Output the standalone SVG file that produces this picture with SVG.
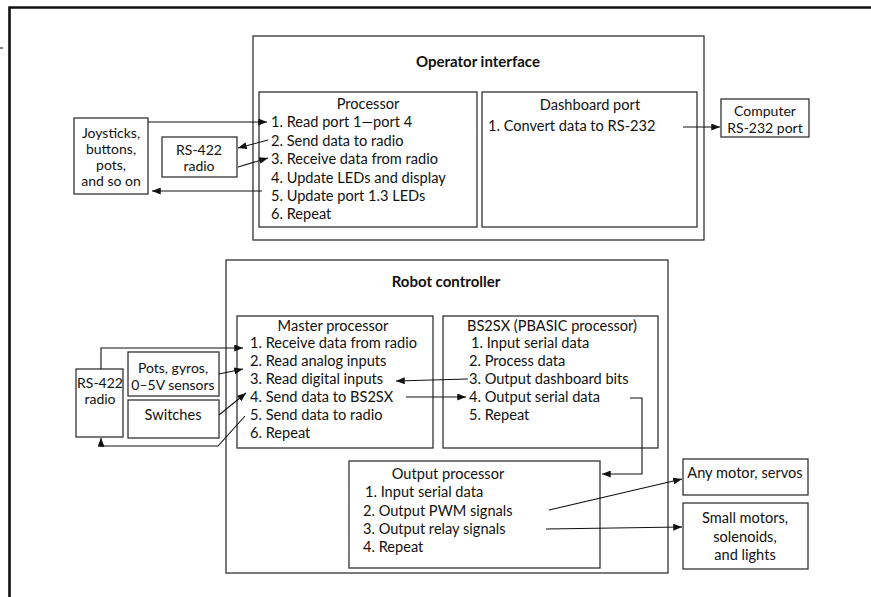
<svg xmlns="http://www.w3.org/2000/svg" width="871" height="597" viewBox="0 0 871 597">
<defs>
<marker id="ah" viewBox="0 0 10 8" refX="10" refY="4" markerWidth="9" markerHeight="7" markerUnits="userSpaceOnUse" orient="auto">
<path d="M0,0 L10,4 L0,8 z" fill="#111"/>
</marker>
</defs>
<style>
.box{fill:#fff;stroke:#333;stroke-width:1.3}
.t{font-family:Lato,"Open Sans","Liberation Sans",sans-serif;font-size:14.6px;fill:#111}
.s{font-size:14px}
.c{text-anchor:middle}
.b{font-weight:bold;font-size:15px}
.ln{fill:none;stroke:#111;stroke-width:1.1}
.arr{marker-end:url(#ah)}
.frame{fill:none;stroke:#111;stroke-width:2.6}
</style>
<rect width="871" height="597" fill="#fff"/>
<g id="frame">
<path class="frame" d="M9.5,597 V7.5 H871"/>
<path d="M0,48 H3" stroke="#333" stroke-width="1.2"/>
</g>
<g id="operator-interface">
<rect class="box" x="253" y="36" width="451" height="204"/>
<text class="t c b" x="478" y="67">Operator interface</text>
</g>
<g id="processor">
<rect class="box" x="259" y="92" width="218" height="135"/>
<text class="t c" x="368" y="109">Processor</text>
<text class="t" x="271" y="127">1. Read port 1—port 4</text>
<text class="t" x="271" y="146">2. Send data to radio</text>
<text class="t" x="271" y="164">3. Receive data from radio</text>
<text class="t" x="271" y="183">4. Update LEDs and display</text>
<text class="t" x="271" y="201">5. Update port 1.3 LEDs</text>
<text class="t" x="271" y="219">6. Repeat</text>
</g>
<g id="dashboard-port">
<rect class="box" x="482" y="92" width="215" height="135"/>
<text class="t c" x="590" y="110">Dashboard port</text>
<text class="t" x="488" y="131">1. Convert data to RS-232</text>
</g>
<g id="computer">
<rect class="box" x="721" y="99" width="88" height="38"/>
<text class="t c s" x="765" y="116">Computer</text>
<text class="t c s" x="765" y="133">RS-232 port</text>
</g>
<g id="joysticks">
<rect class="box" x="74" y="118" width="74" height="76"/>
<text class="t c s" x="111" y="138">Joysticks,</text>
<text class="t c s" x="111" y="154">buttons,</text>
<text class="t c s" x="111" y="170">pots,</text>
<text class="t c s" x="111" y="186">and so on</text>
</g>
<g id="radio-top">
<rect class="box" x="162" y="137" width="75" height="40"/>
<text class="t c s" x="199" y="155">RS-422</text>
<text class="t c s" x="199" y="171">radio</text>
</g>
<g id="robot-controller">
<rect class="box" x="226" y="260" width="442" height="313"/>
<text class="t c b" x="446" y="287">Robot controller</text>
</g>
<g id="master-processor">
<rect class="box" x="237" y="316" width="196" height="132"/>
<text class="t c" x="333" y="331">Master processor</text>
<text class="t" x="250" y="348">1. Receive data from radio</text>
<text class="t" x="250" y="366">2. Read analog inputs</text>
<text class="t" x="250" y="384">3. Read digital inputs</text>
<text class="t" x="250" y="402">4. Send data to BS2SX</text>
<text class="t" x="250" y="420">5. Send data to radio</text>
<text class="t" x="250" y="438">6. Repeat</text>
</g>
<g id="bs2sx">
<rect class="box" x="443" y="316" width="215" height="132"/>
<text class="t c" x="552" y="331">BS2SX (PBASIC processor)</text>
<text class="t" x="471" y="348">1. Input serial data</text>
<text class="t" x="469" y="366">2. Process data</text>
<text class="t" x="469" y="384">3. Output dashboard bits</text>
<text class="t" x="469" y="402">4. Output serial data</text>
<text class="t" x="469" y="420">5. Repeat</text>
</g>
<g id="output-processor">
<rect class="box" x="349" y="461" width="251" height="107"/>
<text class="t c" x="448" y="479">Output processor</text>
<text class="t" x="365" y="497">1. Input serial data</text>
<text class="t" x="363" y="516">2. Output PWM signals</text>
<text class="t" x="363" y="534">3. Output relay signals</text>
<text class="t" x="363" y="552">4. Repeat</text>
</g>
<g id="any-motor">
<rect class="box" x="683" y="459" width="125" height="36"/>
<text class="t c" x="745" y="478">Any motor, servos</text>
</g>
<g id="small-motors">
<rect class="box" x="683" y="503" width="125" height="66"/>
<text class="t c" x="745" y="523">Small motors,</text>
<text class="t c" x="745" y="542">solenoids,</text>
<text class="t c" x="745" y="560">and lights</text>
</g>
<g id="radio-bottom">
<rect class="box" x="76" y="369" width="47" height="68"/>
<text class="t c s" x="100" y="388">RS-422</text>
<text class="t c s" x="100" y="404">radio</text>
</g>
<g id="pots">
<rect class="box" x="128" y="352" width="91" height="44"/>
<text class="t c s" x="173" y="373">Pots, gyros,</text>
<text class="t c s" x="173" y="390">0–5V sensors</text>
</g>
<g id="switches">
<rect class="box" x="128" y="400" width="91" height="38"/>
<text class="t c" x="173" y="420">Switches</text>
</g>
<g id="connectors">
<path class="ln arr" d="M148,122 H267"/>
<path class="ln arr" d="M268,140 L238,148"/>
<path class="ln arr" d="M238,167 L268,158"/>
<path class="ln arr" d="M262,191 H152"/>
<path class="ln arr" d="M683,127 H720"/>
<path class="ln arr" d="M101,369 V348 H243"/>
<path class="ln arr" d="M219,374 L243,369"/>
<path class="ln arr" d="M219,415 L246,393"/>
<path class="ln arr" d="M245,416 L218,446 H101 V438"/>
<path class="ln arr" d="M468,379 L396,381"/>
<path class="ln arr" d="M406,397 H466"/>
<path class="ln arr" d="M630,398 H642 V474 H602"/>
<path class="ln arr" d="M549,510 L682,479"/>
<path class="ln arr" d="M546,529 L682,527"/>
</g>
</svg>
